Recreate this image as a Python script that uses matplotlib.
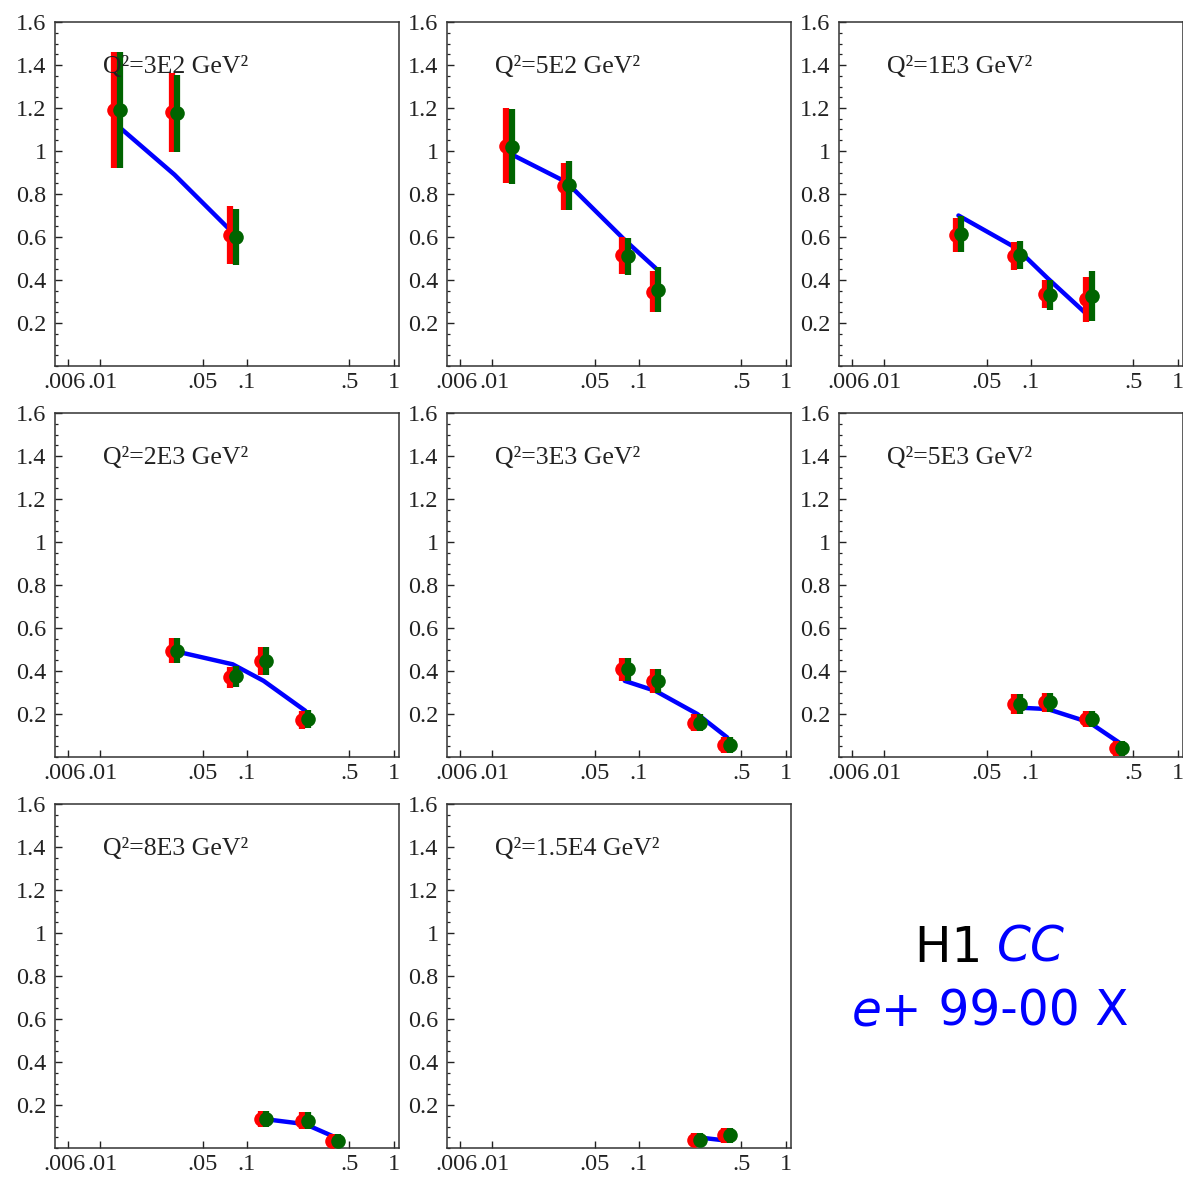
import matplotlib
matplotlib.use("Agg")
import matplotlib.pyplot as plt
import matplotlib.transforms as mtransforms
from matplotlib.ticker import FixedLocator, MultipleLocator

# ---------------- data ----------------
q2_labels = ["Q²=3E2 GeV²", "Q²=5E2 GeV²", "Q²=1E3 GeV²",
             "Q²=2E3 GeV²", "Q²=3E3 GeV²", "Q²=5E3 GeV²",
             "Q²=8E3 GeV²", "Q²=1.5E4 GeV²"]

x_p1 = [0.013, 0.032, 0.08]
red_p1 = [1.19, 1.18, 0.61]
red_e1 = [0.27, 0.185, 0.135]
grn_p1 = [1.19, 1.175, 0.60]
grn_e1 = [0.27, 0.18, 0.13]
fit_p1 = [1.12, 0.89, 0.62]

x_p2 = [0.013, 0.032, 0.08, 0.13]
red_p2 = [1.025, 0.835, 0.515, 0.345]
red_e2 = [0.175, 0.11, 0.085, 0.095]
grn_p2 = [1.02, 0.84, 0.51, 0.355]
grn_e2 = [0.175, 0.115, 0.085, 0.105]
fit_p2 = [0.99, 0.855, 0.586, 0.455]

x_p3 = [0.032, 0.08, 0.13, 0.25]
red_p3 = [0.61, 0.51, 0.335, 0.31]
red_e3 = [0.08, 0.065, 0.065, 0.105]
grn_p3 = [0.615, 0.515, 0.33, 0.325]
grn_e3 = [0.085, 0.065, 0.07, 0.115]
fit_p3 = [0.70, 0.547, 0.408, 0.23]

x_p4 = [0.032, 0.08, 0.13, 0.25]
red_p4 = [0.495, 0.37, 0.445, 0.172]
red_e4 = [0.06, 0.05, 0.065, 0.042]
grn_p4 = [0.495, 0.375, 0.445, 0.175]
grn_e4 = [0.06, 0.05, 0.065, 0.042]
fit_p4 = [0.493, 0.431, 0.354, 0.215]

x_p5 = [0.08, 0.13, 0.25, 0.40]
red_p5 = [0.408, 0.354, 0.16, 0.056]
red_e5 = [0.054, 0.054, 0.039, 0.036]
grn_p5 = [0.408, 0.354, 0.16, 0.056]
grn_e5 = [0.054, 0.054, 0.039, 0.036]
fit_p5 = [0.354, 0.307, 0.20, 0.091]

x_p6 = [0.08, 0.13, 0.25, 0.40]
red_p6 = [0.246, 0.254, 0.176, 0.04]
red_e6 = [0.046, 0.046, 0.038, 0.035]
grn_p6 = [0.246, 0.254, 0.176, 0.04]
grn_e6 = [0.046, 0.046, 0.038, 0.035]
fit_p6 = [0.23, 0.223, 0.161, 0.067]

x_p7 = [0.13, 0.25, 0.40]
red_p7 = [0.135, 0.127, 0.034]
red_e7 = [0.038, 0.039, 0.032]
grn_p7 = [0.135, 0.127, 0.034]
grn_e7 = [0.038, 0.039, 0.032]
fit_p7 = [0.135, 0.111, 0.05]

x_p8 = [0.25, 0.40]
red_p8 = [0.039, 0.06]
red_e8 = [0.033, 0.035]
grn_p8 = [0.039, 0.06]
grn_e8 = [0.033, 0.035]
fit_p8 = [0.05, 0.034]

xticks = [0.006, 0.01, 0.05, 0.1, 0.5, 1.0]
xtick_labels = [".006", ".01", ".05", ".1", ".5", "1"]
yticks = [0.2, 0.4, 0.6, 0.8, 1.0, 1.2, 1.4, 1.6]
ytick_labels = ["0.2", "0.4", "0.6", "0.8", "1", "1.2", "1.4", "1.6"]

panels = [
    (x_p1, red_p1, red_e1, grn_p1, grn_e1, fit_p1),
    (x_p2, red_p2, red_e2, grn_p2, grn_e2, fit_p2),
    (x_p3, red_p3, red_e3, grn_p3, grn_e3, fit_p3),
    (x_p4, red_p4, red_e4, grn_p4, grn_e4, fit_p4),
    (x_p5, red_p5, red_e5, grn_p5, grn_e5, fit_p5),
    (x_p6, red_p6, red_e6, grn_p6, grn_e6, fit_p6),
    (x_p7, red_p7, red_e7, grn_p7, grn_e7, fit_p7),
    (x_p8, red_p8, red_e8, grn_p8, grn_e8, fit_p8),
]

# ---------------- figure ----------------
W, H = 1183, 1178
fig = plt.figure(figsize=(W / 100, H / 100), dpi=100)
plt.rcParams["font.family"] = ["Liberation Serif", "DejaVu Serif"]

col_left = [55, 447, 839]
row_top = [22, 413, 804]
ax_w, ax_h = 344, 344

RED = "#ff0000"
GREEN = "#006400"
BLUE = "#0000ff"

for i, (xs, ry, re, gy, ge, fy) in enumerate(panels):
    r, c = divmod(i, 3)
    left = col_left[c] / W
    bottom = (H - row_top[r] - ax_h) / H
    ax = fig.add_axes([left, bottom, ax_w / W, ax_h / H])
    ax.set_xscale("log")
    ax.set_xlim(0.0049, 1.09)
    ax.set_ylim(0, 1.6)

    ax.plot(xs, fy, color=BLUE, lw=3.2, zorder=2, solid_capstyle="round")

    tr_red = mtransforms.offset_copy(ax.transData, fig=fig, x=-2.8, y=0, units="dots")
    tr_grn = mtransforms.offset_copy(ax.transData, fig=fig, x=2.8, y=0, units="dots")
    ax.errorbar(xs, ry, yerr=re, fmt="o", color=RED, ms=10.5, elinewidth=4.5,
                capsize=0, transform=tr_red, zorder=3, mew=0)
    ax.errorbar(xs, gy, yerr=ge, fmt="o", color=GREEN, ms=10.5, elinewidth=4.5,
                capsize=0, transform=tr_grn, zorder=4, mew=0)

    ax.xaxis.set_major_locator(FixedLocator(xticks))
    ax.xaxis.set_minor_locator(FixedLocator([]))
    ax.set_xticklabels(xtick_labels)
    ax.yaxis.set_major_locator(FixedLocator(yticks))
    ax.set_yticklabels(ytick_labels)
    ax.yaxis.set_minor_locator(MultipleLocator(0.05))
    ax.tick_params(axis="both", which="both", direction="in",
                   labelsize=17.5, colors="#222222", top=False, right=False)
    ax.tick_params(axis="both", which="major", length=5, width=1.0)
    ax.tick_params(axis="y", which="minor", length=2.5, width=0.9)
    ax.tick_params(axis="x", which="major", pad=4)
    ax.tick_params(axis="y", which="major", pad=6)
    for sp in ax.spines.values():
        sp.set_linewidth(1.1)
        sp.set_color("#333333")

    # nudge the two crowded leftmost x labels apart so they just touch
    xl = ax.get_xticklabels()
    for lab, dx in ((xl[0], -3.0), (xl[1], 2.5)):
        lab.set_transform(lab.get_transform() +
                          mtransforms.ScaledTranslation(dx / 100, 0, fig.dpi_scale_trans))

    ax.text(0.139, 0.852, q2_labels[i], transform=ax.transAxes,
            fontsize=18.5, color="#222222", va="baseline", ha="left", zorder=5)

# ---------------- legend-like text in empty cell ----------------
renderer = fig.canvas.get_renderer()


def centered_line(pieces, xc, yb, size):
    arts = []
    for txt, col, style in pieces:
        t = fig.text(0, yb, txt, color=col, fontsize=size, style=style,
                     family="DejaVu Sans", va="baseline", ha="left")
        arts.append(t)
    widths = [a.get_window_extent(renderer).width for a in arts]
    total = sum(widths)
    x = xc * W - total / 2
    for a, w in zip(arts, widths):
        a.set_x(x / W)
        x += w


centered_line([("H1 ", "black", "normal"), ("CC", BLUE, "italic")],
              990 / W, 1 - 962 / H, 35)
centered_line([("e+", BLUE, "italic"), (" 99-00 X", BLUE, "normal")],
              990 / W, 1 - 1026 / H, 35)

fig.savefig("out.png", dpi=100)
